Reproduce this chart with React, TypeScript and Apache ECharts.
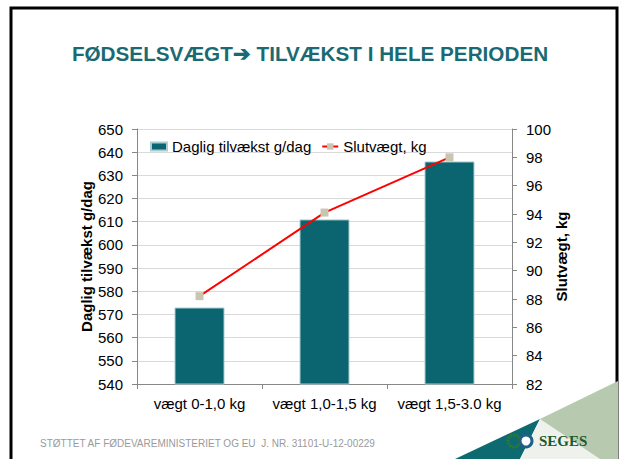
import React, { useEffect, useRef } from "react";
import * as echarts from "echarts";

const categories = ["vægt 0-1,0 kg", "vægt 1,0-1,5 kg", "vægt 1,5-3.0 kg"];
const dailyGain = [573, 611, 636];
const finalWeight = [88.2, 94.1, 98.0];
const leftAxisName = "Daglig tilvækst g/dag";
const rightAxisName = "Slutvægt, kg";
const barName = "Daglig tilvækst g/dag";
const lineName = "Slutvægt, kg";
const titleText = "FØDSELSVÆGT➔ TILVÆKST I HELE PERIODEN";
const footerText = "STØTTET AF FØDEVAREMINISTERIET OG EU  J. NR. 31101-U-12-00229";

const FONT = "'Liberation Sans', Arial, sans-serif";

export default function App() {
  const ref = useRef<HTMLDivElement>(null);
  useEffect(() => {
    if (!ref.current) return;
    const chart = echarts.init(ref.current, undefined, { renderer: "svg" });
    chart.setOption({
      animation: false,
      backgroundColor: "#ffffff",
      textStyle: { fontFamily: FONT },
      title: {
        text: titleText,
        left: "center",
        top: 38,
        textStyle: { fontSize: 20.7, fontWeight: "bold", color: "#1a6a73", fontFamily: FONT },
      },
      legend: {
        left: 145,
        top: 134,
        itemWidth: 16,
        itemHeight: 8,
        itemGap: 10,
        textStyle: { fontSize: 15, color: "#000", fontFamily: FONT },
        data: [
          { name: barName, icon: "rect" },
          { name: lineName },
        ],
      },
      grid: { left: 137, right: 108, top: 129, bottom: 75, containLabel: false },
      xAxis: {
        type: "category",
        data: categories,
        axisLine: { lineStyle: { color: "#888", width: 1 } },
        axisTick: { show: true, length: 5, lineStyle: { color: "#888" } },
        axisLabel: { fontSize: 15, color: "#000", margin: 12, interval: 0, hideOverlap: false, fontFamily: FONT },
      },
      yAxis: [
        {
          type: "value",
          min: 540,
          max: 650,
          interval: 10,
          name: leftAxisName,
          nameLocation: "middle",
          nameGap: 43,
          nameRotate: 90,
          nameMoveOverlap: false,
          nameTextStyle: { fontSize: 15, fontWeight: "bold", color: "#000", fontFamily: FONT },
          axisLine: { show: true, lineStyle: { color: "#888", width: 1 } },
          axisTick: { show: true, length: 5, lineStyle: { color: "#888" } },
          axisLabel: { fontSize: 15, color: "#000", margin: 14, fontFamily: FONT },
          splitLine: { show: true, lineStyle: { color: "#d9d9d9", width: 1 } },
        },
        {
          type: "value",
          min: 82,
          max: 100,
          interval: 2,
          position: "right",
          name: rightAxisName,
          nameLocation: "middle",
          nameGap: 42,
          nameRotate: 90,
          nameMoveOverlap: false,
          nameTextStyle: { fontSize: 15, fontWeight: "bold", color: "#000", fontFamily: FONT },
          axisLine: { show: true, lineStyle: { color: "#888", width: 1 } },
          axisTick: { show: true, length: 5, lineStyle: { color: "#888" } },
          axisLabel: { fontSize: 15, color: "#000", margin: 14, fontFamily: FONT },
          splitLine: { show: false },
        },
      ],
      series: [
        {
          name: barName,
          type: "bar",
          data: dailyGain,
          barWidth: 50,
          itemStyle: { color: "#0b6570", borderColor: "#a9cdd1", borderWidth: 1 },
          z: 2,
        },
        {
          name: lineName,
          type: "line",
          yAxisIndex: 1,
          data: finalWeight,
          symbol: "rect",
          symbolSize: 8,
          showSymbol: true,
          lineStyle: { color: "#ff0000", width: 2 },
          itemStyle: { color: "#c8c6b0" },
          z: 3,
        },
      ],
      graphic: [
        {
          type: "rect",
          shape: { x: 11, y: 8, width: 606, height: 470 },
          style: { fill: "none", stroke: "#000", lineWidth: 3 },
          silent: true,
        },
        {
          type: "text",
          left: 40,
          top: 438,
          style: { text: footerText, fontSize: 10, fill: "#9a9a9a", fontFamily: FONT },
        },
        {
          type: "polygon",
          shape: { points: [[455, 459], [540, 419], [520, 459]] },
          style: { fill: "#0d6a70" },
        },
        {
          type: "polygon",
          shape: { points: [[540, 419], [520, 459], [600, 459]] },
          style: { fill: "#eef1ec" },
        },
        {
          type: "polygon",
          shape: { points: [[540, 419], [618, 381], [618, 459], [600, 459]] },
          style: { fill: "#b7cab0" },
        },
        {
          type: "circle",
          shape: { cx: 514, cy: 441, r: 6 },
          style: { fill: "none", stroke: "#2f7a2f", lineWidth: 3, lineDash: [2, 1] },
        },
        {
          type: "circle",
          shape: { cx: 526, cy: 441, r: 6 },
          style: { fill: "#ffffff", stroke: "#1f5f8a", lineWidth: 3 },
        },
        {
          type: "text",
          left: 539,
          top: 433,
          style: {
            text: "SEGES",
            fontSize: 15,
            fontWeight: "bold",
            fill: "#1d5a2c",
            fontFamily: "'Liberation Serif', serif",
          },
        },
      ],
    });
    return () => chart.dispose();
  }, []);
  return (
    <div
      ref={ref}
      style={{ position: "absolute", left: 0, top: 0, width: 620, height: 459 }}
    />
  );
}
